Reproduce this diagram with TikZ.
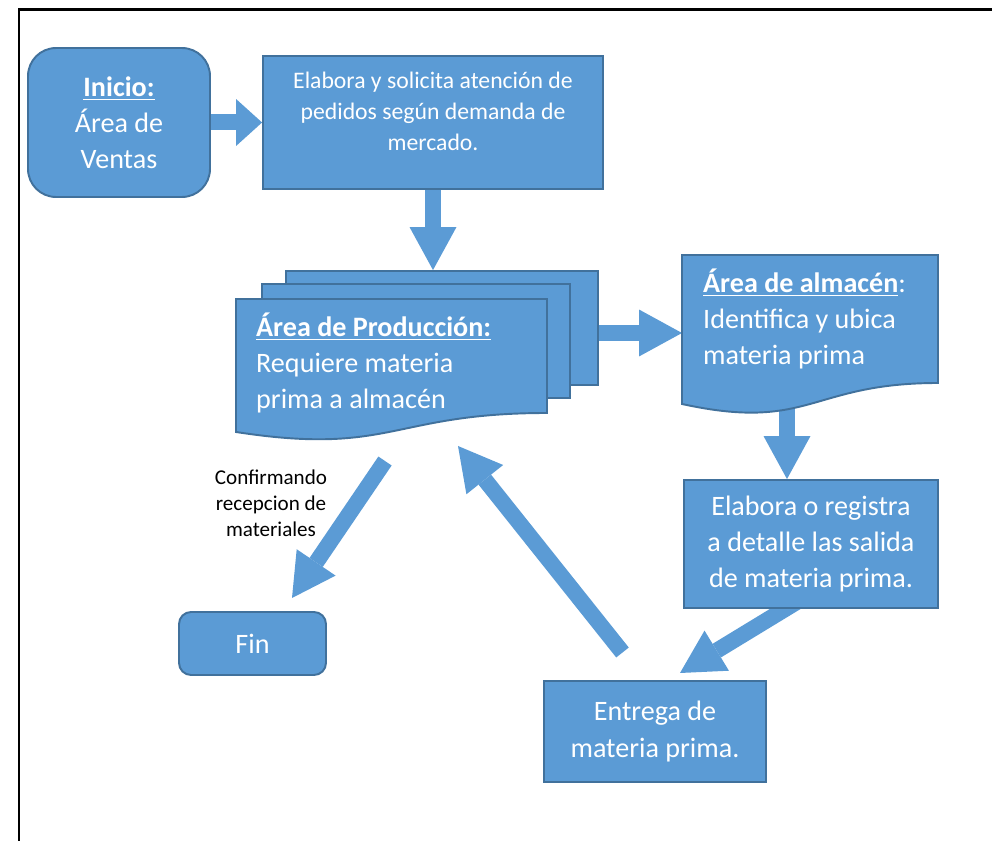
\documentclass[tikz,border=0pt]{standalone}
\usepackage{fontspec}
\setmainfont{Carlito}
\usepackage{tikz}
\usetikzlibrary{arrows.meta,backgrounds,calc,positioning}

\definecolor{boxblue}{HTML}{5B9BD5}
\definecolor{boxline}{HTML}{41719C}

\tikzset{
  box/.style={draw=boxline, line width=1.1pt, fill=boxblue, text=white},
  bigtext/.style={font=\fontsize{16}{20.5}\selectfont},
  smalltext/.style={font=\fontsize{13.5}{17.6}\selectfont},
  flow/.style={draw=boxblue, line width=0.32cm,
    -{Triangle[length=0.86cm, width=0.94cm, line width=0pt]}},
  shortflow/.style={draw=boxblue, line width=0.32cm,
    -{Triangle[length=0.52cm, width=0.94cm, line width=0pt]}}
}

\begin{document}
\begin{tikzpicture}[x=0.02cm, y=-0.02cm]
\useasboundingbox (0,0) rectangle (992,841);
\draw[line width=0.05cm] (19,841) -- (19,9.5) -- (992,9.5);

% inicio y pedidos
\node[box, rounded corners=0.56cm, minimum width=3.64cm, minimum height=2.98cm,
  align=center, bigtext] (inicio) at (119,122.5)
  {\textbf{\underline{Inicio:}}\\Área de\\Ventas};
\node[box, minimum width=6.8cm, minimum height=2.66cm] (elab) at (433,122.5) {};
\node[smalltext, text=white, align=center] (elabtxt) at (433,111)
  {Elabora y solicita atención de\\pedidos según demanda de\\mercado.};

% produccion (varias hojas)
\node[box, minimum width=6.24cm, minimum height=2.28cm] (prodback) at (442,328) {};
\node[box, minimum width=6.16cm, minimum height=2.28cm] (prodmid) at (416,341) {};
\draw[box] (236,299) -- (547,299) -- (547,413)
  .. controls (391.5,413) and (391.5,456) .. (236,432) -- cycle;
\node[bigtext, text=white, align=left, anchor=west] (prodtxt) at (250,363)
  {\textbf{\underline{Área de Producción:}}\\Requiere materia\\prima a almacén};

% almacen
\draw[box] (682,255) -- (938,255) -- (938,383)
  .. controls (810,383) and (810,432) .. (682,404) -- cycle;
\node[bigtext, text=white, align=left, anchor=west] (almtxt) at (697,319)
  {\textbf{\underline{Área de almacén}}:\\Identifica y ubica\\materia prima};

\node[box, minimum width=5.08cm, minimum height=2.56cm, align=center, bigtext]
  (regist) at (811,544) {Elabora o registra\\a detalle las salida\\de materia prima.};
\node[box, minimum width=4.44cm, minimum height=2.02cm, align=center, bigtext]
  (entrega) at (655,731.5) {Entrega de\\materia prima.};
\node[box, rounded corners=0.24cm, minimum width=2.94cm, minimum height=1.26cm,
  bigtext] (fin) at (252.5,643.5) {Fin};
\node[font=\fontsize{12}{14.8}\selectfont, align=center] (confirm) at (271,503)
  {Confirmando\\recepcion de\\materiales};

% flechas
\coordinate (almW) at (682,333);
\coordinate (almS) at (787,400);
\coordinate (regOut) at (800,600);
\coordinate (entIn) at (680,673);
\coordinate (entOut) at (622.5,652.5);
\coordinate (prodIn) at (458,446);
\coordinate (prodOut) at (385,461);
\coordinate (finIn) at (292,598);
\begin{scope}[on background layer]
\draw[shortflow] (inicio.east) -- (elab.west);
\draw[flow] (elab.south) -- (elab.south |- prodback.north);
\draw[flow] (almW -| prodback.east) -- (almW);
\draw[flow] (almS) -- (almS |- regist.north);
\draw[flow] (regOut) -- (entIn);
\draw[flow] (entOut) -- (prodIn);
\draw[flow] (prodOut) -- (finIn);
\end{scope}
\end{tikzpicture}
\end{document}
